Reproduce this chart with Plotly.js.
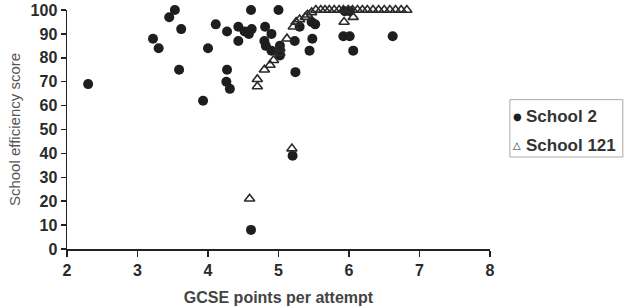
<!DOCTYPE html>
<html>
<head>
<meta charset="utf-8">
<script src="https://cdn.plot.ly/plotly-3.0.1.min.js"></script>
<style>html,body{margin:0;padding:0;background:#fff;}#chart{width:629px;height:306px;}</style>
</head>
<body>
<div id="chart"></div>
<script>
// School 2 (filled circles)
const school2X = [2.30, 3.22, 3.30, 3.45, 3.53, 3.62, 3.59, 3.93, 4.00, 4.11, 4.27, 4.27, 4.26, 4.31, 4.43, 4.43, 4.52, 4.58, 4.62, 4.61, 5.00, 4.81, 4.90, 4.80, 4.82, 4.90, 5.02, 5.02, 5.02, 5.23, 5.24, 5.44, 5.48, 5.30, 5.47, 5.52, 5.92, 6.01, 6.06, 6.62, 4.61, 5.20, 5.94, 6.01];
const school2Y = [69, 88, 84, 97, 100, 92, 75, 62, 84, 94, 91, 75, 70, 67, 93, 87, 91, 90, 92, 100, 100, 93, 90, 87, 85, 83, 85, 83, 81, 87, 74, 83, 88, 93, 95, 94, 89, 89, 83, 89, 8, 39, 99.5, 99.5];
// School 121 (open triangles)
const school121X = [4.59, 4.70, 4.70, 4.80, 4.88, 4.93, 5.02, 5.02, 5.12, 5.19, 5.21, 5.25, 5.30, 5.38, 5.41, 5.47, 5.93, 6.06,
  5.53, 5.60, 5.66, 5.72, 5.79, 5.86, 5.92, 5.99, 6.05, 6.12, 6.19, 6.26, 6.34, 6.42, 6.50, 6.58, 6.66, 6.74, 6.82];
const school121Y = [21, 71, 68, 75, 77, 79, 84, 82, 88, 42, 93, 95, 96, 97, 98, 99, 95, 97,
  100, 100, 100, 100, 100, 100, 100, 100, 100, 100, 100, 100, 100, 100, 100, 100, 100, 100, 100];
const seriesNames = ['School 2', 'School 121'];
const xTicks = [2, 3, 4, 5, 6, 7, 8];
const yTicks = [0, 10, 20, 30, 40, 50, 60, 70, 80, 90, 100];

const font = "Liberation Sans, Arial, sans-serif";
const traces = [
  {x: school2X, y: school2Y, type: 'scatter', mode: 'markers', name: seriesNames[0], cliponaxis: false,
   marker: {symbol: 'circle', size: 10, color: '#1e1e1e'}},
  {x: school121X, y: school121Y, type: 'scatter', mode: 'markers', name: seriesNames[1], cliponaxis: false,
   marker: {symbol: 'triangle-up-open', size: 9, color: '#2a2a2a', line: {width: 1.6, color: '#2a2a2a'}}}
];
const layout = {
  width: 629, height: 306,
  margin: {l: 67, r: 139, t: 10, b: 57, autoexpand: false},
  paper_bgcolor: '#fff', plot_bgcolor: '#fff',
  font: {family: font, color: '#333', size: 13},
  showlegend: false,
  shapes: [
    {type: 'rect', xref: 'paper', yref: 'paper', x0: 1.047, x1: 1.314, y0: 0.385, y1: 0.625,
     line: {color: '#aaa', width: 1}, fillcolor: 'rgba(0,0,0,0)'}
  ],
  annotations: [
    {xref: 'paper', yref: 'paper', x: 1.064, y: 0.555, text: '●', showarrow: false, xanchor: 'center', yanchor: 'middle',
     font: {size: 10, color: '#1e1e1e', family: 'DejaVu Sans'}},
    {xref: 'paper', yref: 'paper', x: 1.080, y: 0.555, text: '<b>' + seriesNames[0] + '</b>', showarrow: false,
     xanchor: 'left', yanchor: 'middle', font: {size: 17, color: '#333'}},
    {xref: 'paper', yref: 'paper', x: 1.064, y: 0.435, text: '△', showarrow: false, xanchor: 'center', yanchor: 'middle',
     font: {size: 10, color: '#2a2a2a', family: 'DejaVu Sans'}},
    {xref: 'paper', yref: 'paper', x: 1.080, y: 0.435, text: '<b>' + seriesNames[1] + '</b>', showarrow: false,
     xanchor: 'left', yanchor: 'middle', font: {size: 17, color: '#333'}}
  ],
  xaxis: {range: [2, 8], tickvals: xTicks, ticktext: xTicks.map(v => '<b>' + v + '</b>'),
          showgrid: false, zeroline: false, showline: true, linecolor: '#222', linewidth: 1.5,
          ticks: 'outside', ticklen: 6, tickwidth: 1.5, tickcolor: '#222',
          tickfont: {size: 16, color: '#2a2a2a'},
          title: {text: '<b>GCSE points per attempt</b>', font: {size: 16, color: '#444'}, standoff: 16}},
  yaxis: {range: [0, 100], tickvals: yTicks, ticktext: yTicks.map(v => '<b>' + v + '</b>'),
          showgrid: false, zeroline: false, showline: true, linecolor: '#222', linewidth: 1.5,
          ticks: 'outside', ticklen: 5, tickwidth: 1.5, tickcolor: '#222',
          tickfont: {size: 16, color: '#2a2a2a'},
          title: {text: 'School efficiency score', font: {size: 15, color: '#555'}, standoff: 6}}
};
Plotly.newPlot('chart', traces, layout, {displayModeBar: false, staticPlot: true});
</script>
</body>
</html>
